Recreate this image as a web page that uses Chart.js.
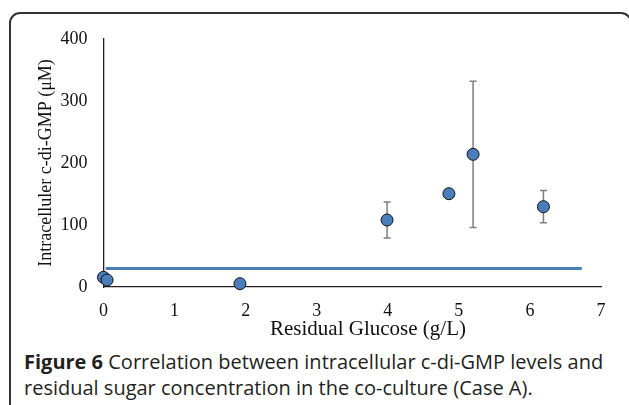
<!DOCTYPE html>
<html>
<head>
<meta charset="utf-8">
<script src="https://cdn.jsdelivr.net/npm/chart.js@4/dist/chart.umd.min.js"></script>
<style>
  html, body { margin: 0; padding: 0; background: #fff; }
  body { width: 629px; height: 405px; position: relative; overflow: hidden; }
  #frame {
    position: absolute; left: 9px; top: 12px; width: 623px; height: 420px;
    border: 2px solid #333; border-radius: 11px; box-sizing: border-box;
  }
  #wrap { position: absolute; left: 0; top: 0; width: 629px; height: 345px; }
  #caption {
    position: absolute; left: 24px; top: 349px; width: 610px; white-space: nowrap;
    font-family: "Open Sans", sans-serif; font-size: 20px; line-height: 26px;
    color: #231f20;
  }
  #caption b { font-weight: 700; }
</style>
</head>
<body>
<div id="frame"></div>
<div id="wrap"><canvas id="chart" width="629" height="345"></canvas></div>
<div id="caption"><b>Figure 6</b> Correlation between intracellular c-di-GMP levels and<br>residual sugar concentration in the co-culture (Case A).</div>
<script>
// residual glucose (g/L) vs intracellular c-di-GMP (uM)
const glucose = [0, 0.05, 1.92, 3.99, 4.86, 5.2, 6.19];
const cdigmp = [15.6, 11.3, 5.3, 108, 150.5, 214, 129.5];
const errBar = [0, 0, 0, 29, 0, 118, 26];

// flat reference line
const lineX = [0.03, 6.73];
const lineY = [30, 30];

const xTicks = [0, 1, 2, 3, 4, 5, 6, 7];
const yTicks = [0, 100, 200, 300, 400];

const blue = "#4a7ebb";

/* error bars, drawn under the markers */
const errorBars = {
  id: "errorBars",
  beforeDatasetsDraw(chart) {
    const { ctx, scales: { x, y } } = chart;
    ctx.save();
    ctx.strokeStyle = "#7f7f7f";
    ctx.lineWidth = 1.5;
    glucose.forEach((g, i) => {
      if (!errBar[i]) return;
      const px = x.getPixelForValue(g);
      const top = y.getPixelForValue(cdigmp[i] + errBar[i]);
      const bot = y.getPixelForValue(cdigmp[i] - errBar[i]);
      ctx.beginPath();
      ctx.moveTo(px, top); ctx.lineTo(px, bot);
      ctx.moveTo(px - 3.5, top); ctx.lineTo(px + 3.5, top);
      ctx.moveTo(px - 3.5, bot); ctx.lineTo(px + 3.5, bot);
      ctx.stroke();
    });
    ctx.restore();
  }
};

const serif = "'Liberation Serif', 'Times New Roman', serif";

new Chart(document.getElementById("chart"), {
  type: "scatter",
  data: {
    datasets: [{
      type: "line",
      data: lineX.map((v, i) => ({ x: v, y: lineY[i] })),
      borderColor: blue,
      borderWidth: 3,
      pointRadius: 0,
      fill: false
    }, {
      data: glucose.map((v, i) => ({ x: v, y: cdigmp[i] })),
      backgroundColor: blue,
      borderColor: "#111",
      borderWidth: 1,
      pointRadius: 6,
      clip: false
    }]
  },
  plugins: [errorBars],
  options: {
    responsive: false,
    animation: false,
    layout: { padding: { left: 35, right: 28, top: 39, bottom: 3 } },
    plugins: {
      legend: { display: false },
      tooltip: { enabled: false }
    },
    scales: {
      x: {
        type: "linear",
        min: 0, max: 7,
        afterBuildTicks: s => { s.ticks = xTicks.map(v => ({ value: v })); },
        afterFit: s => { s.height = 55; },
        grid: { display: false, drawTicks: false },
        border: { display: true, color: "#222", width: 1.3 },
        ticks: { color: "#111", padding: 13, font: { family: serif, size: 18 } },
        title: {
          display: true, text: "      Residual Glucose (g/L)", color: "#111", padding: 0,
          font: { family: serif, size: 21 }
        }
      },
      y: {
        min: 0, max: 400,
        afterBuildTicks: s => { s.ticks = yTicks.map(v => ({ value: v })); },
        afterFit: s => { s.width = 68.5; },
        grid: { display: false, drawTicks: false },
        border: { display: true, color: "#222", width: 1.3 },
        ticks: { color: "#111", padding: 16, font: { family: serif, size: 18 } },
        title: {
          display: true, text: "Intracelluler c-di-GMP (μM)", color: "#111", padding: 0,
          font: { family: serif, size: 18 }
        }
      }
    }
  }
});
</script>
</body>
</html>
